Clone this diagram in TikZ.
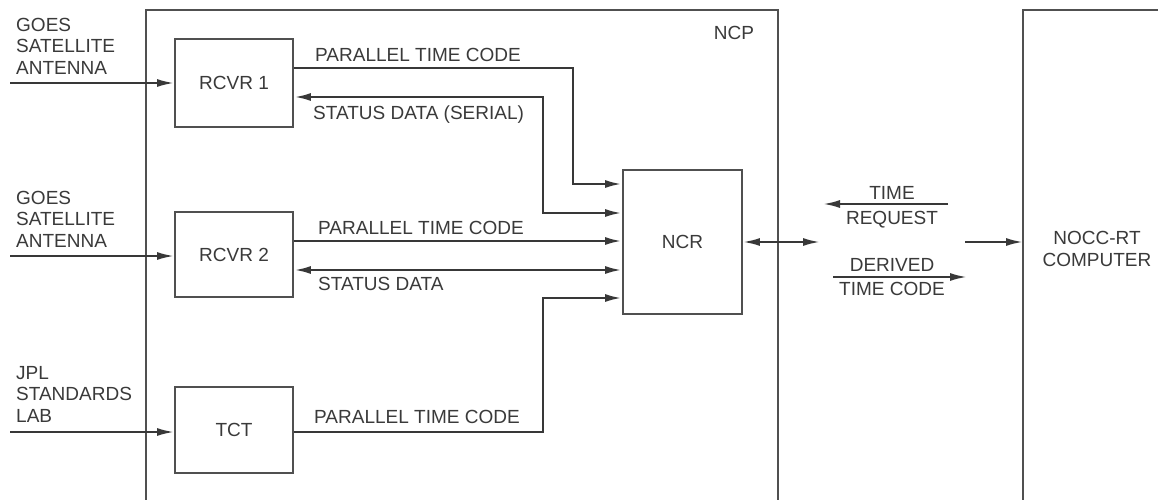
\documentclass[tikz,border=0pt]{standalone}
\usepackage{fontspec}
\setmainfont{Liberation Sans}
\usetikzlibrary{arrows.meta,calc}
\definecolor{ln}{HTML}{383838}
\definecolor{bx}{HTML}{505050}
\definecolor{tx}{HTML}{3A3A3A}
\tikzset{
  lbl/.style={font=\fontsize{19}{21.5}\selectfont, text=tx, inner sep=0pt, text height=13.6pt, text depth=0pt},
  mlbl/.style={font=\fontsize{19}{21.5}\selectfont, text=tx, inner sep=0pt},
  blk/.style={draw=bx, line width=1.8pt, minimum width=118pt, inner sep=0pt,
    font=\fontsize{19}{21.5}\selectfont, text=tx, text height=13.6pt, text depth=0pt},
  sig/.style={draw=ln, line width=2.6pt},
  hd/.tip={Latex[length=17pt,width=8pt]},
  tip/.style={-hd},
  dbl/.style={hd-hd},
  frame/.style={draw=bx, line width=2pt}
}
\begin{document}
\begin{tikzpicture}[x=1pt,y=-1pt]
\useasboundingbox[fill=white] (0,0) rectangle (1158,500);
% frames
\draw[frame] (146,500) -- (146,10) -- (778,10) -- (778,500);
\draw[frame] (1023,500) -- (1023,10) -- (1162,10);
\node[lbl] (ncp) at (734,33) {NCP};
% blocks
\node[blk, minimum height=88pt] (r1) at (234,83) {RCVR 1};
\node[blk, minimum height=85pt] (r2) at (234,254.5) {RCVR 2};
\node[blk, minimum height=86pt] (tct) at (234,430) {TCT};
\node[blk, minimum width=119pt, minimum height=144pt] (ncr) at (682.5,242) {NCR};
% left labels
\node[mlbl, align=left, anchor=north west] (g1) at (16,18) {GOES\\SATELLITE\\ANTENNA};
\node[mlbl, align=left, anchor=north west] (g2) at (16,191) {GOES\\SATELLITE\\ANTENNA};
\node[mlbl, align=left, anchor=north west] (jpl) at (16,366) {JPL\\STANDARDS\\LAB};
\coordinate (in1) at (10,83);
\coordinate (in2) at (10,256);
\coordinate (in3) at (10,432);
\draw[sig, line width=2.2pt, tip] (in1) -- (r1.west);
\draw[sig, line width=2.2pt, tip] (in2) -- (r2.west |- in2);
\draw[sig, line width=2.2pt, tip] (in3) -- (tct.west |- in3);
% RCVR1 signals
\draw[sig, tip] ([yshift=15pt]r1.east) -| (573,184) -- ([yshift=58pt]ncr.west);
\draw[sig, dbl] ([yshift=29pt]ncr.west) -| (543,97) -- ([yshift=-14pt]r1.east);
\node[lbl, anchor=west] (p1) at (315,55) {PARALLEL TIME CODE};
\node[lbl, anchor=west] (s1) at (313,113) {STATUS DATA (SERIAL)};
% RCVR2 signals
\draw[sig, tip] (r2.east |- 0,241) -- ([yshift=1pt]ncr.west);
\draw[sig, dbl] (r2.east |- 0,270) -- ([yshift=-28pt]ncr.west);
\node[lbl, anchor=west] (p2) at (318,228) {PARALLEL TIME CODE};
\node[lbl, anchor=west] (s2) at (318,284) {STATUS DATA};
% TCT signal
\draw[sig, tip] (tct.east |- 0,432) -| (543,298) -- ([yshift=-56pt]ncr.west);
\node[lbl, anchor=west] (p3) at (314,417) {PARALLEL TIME CODE};
% NCR to outside
\coordinate (da) at (820,242);
\draw[sig, line width=2.2pt, dbl] (ncr.east) -- (da);
\node[lbl] (time1) at (892,193) {TIME};
\node[lbl] (req) at (892,218) {REQUEST};
\coordinate (tra) at (948,204);
\coordinate (trb) at (823,204);
\draw[sig, line width=2.2pt, tip] (tra) -- (trb);
\node[lbl] (der) at (892,265) {DERIVED};
\node[lbl] (tc) at (892,289) {TIME CODE};
\coordinate (dca) at (833,277);
\coordinate (dcb) at (967,277);
\draw[sig, line width=2.2pt, tip] (dca) -- (dcb);
\coordinate (na) at (965,242);
\coordinate (nocc) at (1023,242);
\draw[sig, line width=2.2pt, tip] (na) -- (nocc);
\node[mlbl, align=center] (noccl) at (1097,249) {NOCC-RT\\COMPUTER};
\end{tikzpicture}
\end{document}
